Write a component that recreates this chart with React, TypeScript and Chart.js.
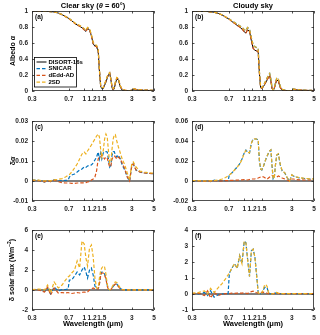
import React, { useEffect, useRef } from 'react';
import { Chart, registerables } from 'chart.js';
Chart.register(...registerables);

// ---------- data ----------
const wavelength = [
  0.3, 0.35, 0.4, 0.43, 0.46,
  0.5, 0.55, 0.6, 0.65, 0.69,
  0.71, 0.75, 0.8, 0.85, 0.9,
  0.95, 1.0, 1.04, 1.08, 1.13,
  1.18, 1.23, 1.28, 1.33, 1.38,
  1.42, 1.46, 1.5, 1.55, 1.6,
  1.65, 1.7, 1.75, 1.8, 1.85,
  1.9, 1.95, 2.0, 2.05, 2.12,
  2.2, 2.3, 2.4, 2.55, 2.7,
  2.85, 3.0, 3.1, 3.3, 3.6,
  4.0, 4.5, 5.0,
];

const albedoClearDisort = [
  0.998, 0.997, 0.996, 0.995, 0.993,
  0.988, 0.975, 0.955, 0.93, 0.912,
  0.902, 0.878, 0.848, 0.825, 0.81,
  0.79, 0.765, 0.745, 0.78, 0.765,
  0.69, 0.59, 0.56, 0.55, 0.5,
  0.25, 0.06, 0.03, 0.03, 0.07,
  0.11, 0.16, 0.2, 0.22, 0.14,
  0.04, 0.01, 0.03, 0.09, 0.15,
  0.14, 0.05, 0.01, 0.004, 0.002,
  0.001, 0.003, 0.02, 0.015, 0.01,
  0.008, 0.006, 0.005,
];

const albedoCloudyDisort = [
  0.998, 0.997, 0.995, 0.993, 0.99,
  0.985, 0.97, 0.95, 0.925, 0.905,
  0.895, 0.87, 0.845, 0.82, 0.8,
  0.775, 0.74, 0.725, 0.765, 0.745,
  0.63, 0.53, 0.51, 0.5, 0.49,
  0.22, 0.04, 0.03, 0.05, 0.08,
  0.11, 0.14, 0.17, 0.19, 0.12,
  0.03, 0.01, 0.03, 0.08, 0.14,
  0.12, 0.04, 0.01, 0.004, 0.002,
  0.001, 0.003, 0.02, 0.015, 0.01,
  0.008, 0.006, 0.005,
];

// albedo differences (model - DISORT), clear sky
const dAlbClearSnicar = [
  0.0005, 0.0003, -0.0005, 0.0002, -0.0003,
  0.0006, 0.0, 0.0002, 0.0003, 0.0004,
  0.002, 0.003, 0.0035, 0.0045, 0.0055,
  0.006, 0.007, 0.0068, 0.0075, 0.0078,
  0.008, 0.009, 0.0105, 0.012, 0.0145,
  0.011, 0.014, 0.011, 0.014, 0.0147,
  0.0147, 0.0145, 0.011, 0.007, 0.008,
  0.013, 0.0147, 0.0147, 0.013, 0.012,
  0.013, 0.011, 0.008, 0.0055, 0.002,
  0.0, 0.008, 0.0085, 0.0055, 0.0045,
  0.004, 0.0038, 0.0036,
];
const dAlbClearDedd = [
  0.0003, 0.0002, -0.0004, 0.0002, -0.0003,
  0.0004, -0.0003, -0.0008, -0.001, -0.001,
  -0.001, -0.0012, -0.0012, -0.001, -0.001,
  -0.0009, -0.001, -0.0008, -0.0005, -0.0003,
  0.0005, 0.001, 0.002, 0.005, 0.011,
  0.012, 0.012, 0.013, 0.012, 0.011,
  0.012, 0.0115, 0.009, 0.007, 0.0075,
  0.011, 0.012, 0.0125, 0.012, 0.011,
  0.012, 0.011, 0.009, 0.006, 0.002,
  0.0, 0.008, 0.0085, 0.0055, 0.0045,
  0.004, 0.0038, 0.0036,
];
const dAlbClear2sd = [
  0.0005, 0.0004, 0.0, 0.0003, 0.0001,
  0.0006, 0.0008, 0.0012, 0.002, 0.0028,
  0.0032, 0.0045, 0.0065, 0.0085, 0.011,
  0.0135, 0.0145, 0.0135, 0.015, 0.0165,
  0.018, 0.0195, 0.021, 0.0225, 0.0235,
  0.022, 0.016, 0.012, 0.015, 0.021,
  0.0235, 0.022, 0.015, 0.009, 0.01,
  0.016, 0.021, 0.023, 0.0232, 0.02,
  0.017, 0.014, 0.011, 0.008, 0.004,
  0.0005, 0.009, 0.0095, 0.007, 0.005,
  0.0045, 0.004, 0.004,
];

// albedo differences, cloudy sky
const dAlbCloudySnicar = [
  0.0005, 0.0003, -0.0005, 0.0005, -0.0005,
  0.0008, 0.0, 0.0003, 0.0004, 0.0005,
  0.006, 0.008, 0.011, 0.014, 0.017,
  0.022, 0.028, 0.031, 0.029, 0.028,
  0.038, 0.042, 0.042, 0.042, 0.041,
  0.02, 0.012, 0.011, 0.014, 0.018,
  0.022, 0.025, 0.028, 0.03, 0.031,
  0.015, 0.002, 0.003, 0.015, 0.026,
  0.027, 0.016, 0.01, 0.008, 0.003,
  0.0, 0.006, 0.005, 0.004, 0.003,
  0.0025, 0.002, 0.002,
];
const dAlbCloudyDedd = [
  0.0003, 0.0002, -0.0004, 0.0003, -0.0004,
  0.0005, -0.0002, 0.0001, 0.0003, 0.0004,
  0.0005, 0.0006, 0.0008, 0.0009, 0.001,
  0.0012, 0.0015, 0.0012, 0.001, 0.0015,
  0.002, 0.002, 0.0022, 0.0025, 0.003,
  0.0035, 0.004, 0.0045, 0.0042, 0.0035,
  0.0025, 0.002, 0.003, 0.004, 0.005,
  0.0055, 0.005, 0.005, 0.0045, 0.004,
  0.005, 0.004, 0.003, 0.002, 0.001,
  0.0, 0.002, 0.002, 0.0015, 0.0012,
  0.001, 0.001, 0.001,
];
const dAlbCloudy2sd = [
  0.0005, 0.0004, 0.0, 0.0003, 0.0002,
  0.0005, 0.001, 0.002, 0.0035, 0.005,
  0.006, 0.008, 0.011, 0.0138, 0.0168,
  0.0215, 0.0278, 0.0305, 0.0288, 0.0282,
  0.0378, 0.0418, 0.0422, 0.042, 0.041,
  0.0205, 0.0122, 0.0112, 0.0142, 0.0182,
  0.0222, 0.0252, 0.0282, 0.0302, 0.0312,
  0.0155, 0.0022, 0.0032, 0.0152, 0.0262,
  0.0272, 0.0162, 0.0102, 0.0082, 0.0032,
  0.0, 0.0062, 0.0052, 0.0042, 0.0032,
  0.0027, 0.0022, 0.0022,
];

// solar flux differences (W m-2), clear sky
const dFluxClearSnicar = [
  0.05, 0.05, -0.15, 0.2, -0.4,
  0.3, -0.1, 0.05, 0.05, 0.1,
  1.0, 1.0, 1.4, 1.8, 1.5,
  2.0, 2.3, 1.8, 1.2, 2.0,
  2.2, 1.5, 0.4, 0.1, 0.1,
  0.6, 1.5, 1.8, 1.8, 1.6,
  1.2, 0.5, 0.05, 0.0, 0.05,
  0.2, 0.35, 0.5, 0.6, 0.6,
  0.4, 0.15, 0.05, 0.02, 0.02,
  0.02, 0.02, 0.02, 0.02, 0.02,
  0.02, 0.02, 0.02,
];
const dFluxClearDedd = [
  0.05, 0.0, -0.2, 0.3, -0.5,
  0.2, -0.3, -0.25, -0.3, -0.25,
  -0.3, -0.35, -0.3, -0.25, -0.3,
  -0.25, -0.2, -0.25, -0.2, 0.0,
  0.1, 0.2, 0.1, 0.05, 0.1,
  0.6, 1.4, 1.7, 1.7, 1.5,
  1.1, 0.4, 0.05, 0.0, 0.05,
  0.2, 0.35, 0.5, 0.6, 0.55,
  0.35, 0.1, 0.03, 0.02, 0.02,
  0.02, 0.02, 0.02, 0.02, 0.02,
  0.02, 0.02, 0.02,
];
const dFluxClear2sd = [
  0.05, 0.1, 0.0, 0.5, -0.3,
  0.8, 0.2, 0.5, 1.0, 1.3,
  1.4, 1.7, 2.0, 2.9, 2.2,
  4.9, 4.6, 3.2, 2.4, 4.2,
  4.5, 3.3, 1.2, 0.2, 0.2,
  1.2, 1.9, 2.2, 2.4, 2.3,
  1.6, 0.6, 0.1, 0.0, 0.1,
  0.3, 0.5, 0.7, 0.8, 0.75,
  0.5, 0.2, 0.05, 0.02, 0.02,
  0.02, 0.02, 0.02, 0.02, 0.02,
  0.02, 0.02, 0.02,
];

// solar flux differences, cloudy sky
const dFluxCloudySnicar = [
  0.02, 0.0, 0.1, -0.1, 0.2,
  -0.2, -0.05, 0.0, 0.02, 0.02,
  1.3, 1.6, 1.9, 1.6, 2.4,
  1.9, 3.3, 3.2, 2.2, 1.1,
  2.7, 2.8, 2.3, 1.2, 0.1,
  0.0, 0.0, 0.05, 0.25, 0.4,
  0.45, 0.35, 0.08, 0.02, 0.0,
  0.0, 0.02, 0.04, 0.06, 0.08,
  0.04, 0.02, 0.02, 0.02, 0.02,
  0.02, 0.02, 0.02, 0.02, 0.02,
  0.02, 0.02, 0.02,
];
const dFluxCloudyDedd = [
  0.0, 0.05, -0.1, 0.2, -0.25,
  0.1, -0.1, 0.0, 0.02, 0.03,
  0.03, 0.05, 0.04, 0.05, 0.06,
  0.05, 0.08, 0.05, 0.03, 0.1,
  0.15, 0.18, 0.12, 0.08, 0.05,
  0.05, 0.08, 0.1, 0.12, 0.1,
  0.08, 0.05, 0.02, 0.02, 0.02,
  0.02, 0.02, 0.03, 0.04, 0.05,
  0.03, 0.02, 0.02, 0.02, 0.02,
  0.02, 0.02, 0.02, 0.02, 0.02,
  0.02, 0.02, 0.02,
];
const dFluxCloudy2sd = [
  0.05, 0.1, 0.2, 0.0, 0.35,
  0.1, 0.4, 0.65, 0.95, 1.2,
  1.3, 1.6, 1.9, 1.6, 2.4,
  1.9, 3.3, 3.2, 2.2, 1.1,
  2.7, 2.8, 2.3, 1.2, 0.1,
  0.0, 0.0, 0.05, 0.3, 0.55,
  0.6, 0.45, 0.1, 0.02, 0.0,
  0.0, 0.02, 0.05, 0.08, 0.1,
  0.05, 0.02, 0.02, 0.02, 0.02,
  0.02, 0.02, 0.02, 0.02, 0.02,
  0.02, 0.02, 0.02,
];

// DISORT reference difference (zero line)
const referenceWl = [0.3, 5];
const referenceDiff = [0, 0];

const xTickValues = [0.3, 0.7, 1, 1.2, 1.5, 3, 5];
const xTickLabels = ['0.3', '0.7', '1', '1.2', '1.5', '3', '5'];
const yTicksAlbedo = [0, 0.2, 0.4, 0.6, 0.8, 1];
const yTicksClearDiff = [-0.01, 0, 0.01, 0.02, 0.03];
const yTicksCloudyDiff = [-0.02, 0, 0.02, 0.04, 0.06];
const yTicksClearFlux = [-2, 0, 2, 4, 6];
const yTicksCloudyFlux = [-1, 0, 1, 2, 3, 4];

const seriesNames = ['DISORT-16s', 'SNICAR', 'dEdd-AD', '2SD'];

// ---------- styling ----------
const FONT = '"Liberation Sans", Arial, Helvetica, sans-serif';
const AXIS = '#262626';
const COLORS = ['#000000', '#0072BD', '#D95319', '#EDB120'];
const DASH = [3.5, 2];

type Seg = { t: string; i?: boolean; sup?: boolean };
type Series = { wl: number[]; vals: number[] };
type PanelSpec = {
  canvas: { x: number; y: number; w: number; h: number };
  plot: { l: number; t: number; r: number; b: number };
  yMin: number; yMax: number; yTicks: number[];
  series: Series[];
  letter: string;
  title?: Seg[];
  titleY?: number;
  yTitle?: Seg[];
  yTitleX?: number;
  xTitle?: Seg[];
  xTitleY?: number;
  legend?: boolean;
};

function fontFor(s: Seg, size: number) {
  return `${s.i ? 'italic ' : ''}bold ${s.sup ? size * 0.7 : size}px ${FONT}`;
}
function drawRich(ctx: CanvasRenderingContext2D, segs: Seg[], x: number, y: number, size: number, align: 'center' | 'left') {
  const widths = segs.map((s) => { ctx.font = fontFor(s, size); return ctx.measureText(s.t).width; });
  const total = widths.reduce((a, b) => a + b, 0);
  let cx = align === 'center' ? x - total / 2 : x;
  ctx.textAlign = 'left';
  ctx.textBaseline = 'middle';
  segs.forEach((s, k) => {
    ctx.font = fontFor(s, size);
    ctx.fillText(s.t, cx, s.sup ? y - size * 0.35 : y);
    cx += widths[k];
  });
}

const decoPlugin = {
  id: 'deco',
  afterDatasetsDraw(chart: any, _args: any, opts: any) {
    const { ctx, chartArea: ca, scales } = chart;
    const spec: PanelSpec = opts.spec;
    const cx0 = spec.canvas.x, cy0 = spec.canvas.y;
    ctx.save();
    ctx.strokeStyle = AXIS;
    ctx.lineWidth = 0.8;
    const tl = 2.5;
    const xs = scales.x, ys = scales.y;
    ctx.beginPath();
    xs.ticks.forEach((t: any) => {
      const px = Math.round(xs.getPixelForValue(t.value)) + 0.5;
      ctx.moveTo(px, ca.bottom); ctx.lineTo(px, ca.bottom - tl);
      ctx.moveTo(px, ca.top); ctx.lineTo(px, ca.top + tl);
    });
    ys.ticks.forEach((t: any) => {
      const py = Math.round(ys.getPixelForValue(t.value)) + 0.5;
      ctx.moveTo(ca.left, py); ctx.lineTo(ca.left + tl, py);
      ctx.moveTo(ca.right, py); ctx.lineTo(ca.right - tl, py);
    });
    ctx.stroke();
    ctx.strokeRect(ca.left + 0.5, ca.top + 0.5, ca.right - ca.left - 1, ca.bottom - ca.top - 1);

    ctx.fillStyle = '#000';
    drawRich(ctx, [{ t: spec.letter }], ca.left + 3, ca.top + 6.5, 6.5, 'left');
    const midX = (ca.left + ca.right) / 2;
    if (spec.title) drawRich(ctx, spec.title, midX, (spec.titleY ?? 6) - cy0, 7.5, 'center');
    if (spec.xTitle) drawRich(ctx, spec.xTitle, midX, (spec.xTitleY ?? 324) - cy0, 7.5, 'center');
    if (spec.yTitle) {
      ctx.save();
      ctx.translate((spec.yTitleX ?? 13) - cx0, (ca.top + ca.bottom) / 2);
      ctx.rotate(-Math.PI / 2);
      drawRich(ctx, spec.yTitle, 0, 0, 7, 'center');
      ctx.restore();
    }
    if (spec.legend) {
      const bx = ca.left + 2.5, by = ca.top + 46.5, bw = 42, bh = 29.5;
      ctx.fillStyle = '#fff';
      ctx.fillRect(bx, by, bw, bh);
      ctx.strokeStyle = '#000';
      ctx.lineWidth = 0.8;
      ctx.strokeRect(bx, by, bw, bh);
      chart.data.datasets.forEach((d: any, k: number) => {
        const ly = by + 4.5 + k * 6.7;
        ctx.save();
        ctx.strokeStyle = d.borderColor;
        ctx.lineWidth = d.borderWidth;
        ctx.setLineDash(d.borderDash || []);
        ctx.beginPath();
        ctx.moveTo(bx + 2, ly); ctx.lineTo(bx + 12, ly);
        ctx.stroke();
        ctx.restore();
        ctx.fillStyle = '#000';
        drawRich(ctx, [{ t: d.label }], bx + 14, ly, 6, 'left');
      });
    }
    ctx.restore();
  },
};

function Panel({ spec }: { spec: PanelSpec }) {
  const ref = useRef<HTMLCanvasElement>(null);
  useEffect(() => {
    const c = ref.current!;
    const { canvas, plot } = spec;
    const tickFont = { family: FONT, size: 6.5, weight: 'bold' as const };
    const chart = new Chart(c, {
      type: 'line',
      data: {
        datasets: spec.series.map((s, k) => ({
          label: seriesNames[k],
          data: s.wl.map((w, i) => ({ x: w, y: s.vals[i] })),
          borderColor: COLORS[k],
          borderWidth: k === 0 ? 1 : 1.2,
          borderDash: k === 0 ? [] : DASH,
          pointRadius: 0,
          fill: false,
          tension: 0,
          order: 10 - k,
        })),
      },
      options: {
        responsive: false,
        animation: false,
        devicePixelRatio: 1,
        layout: { padding: { left: 0, top: plot.t - canvas.y, right: canvas.x + canvas.w - plot.r, bottom: 0 } },
        plugins: { legend: { display: false }, tooltip: { enabled: false }, deco: { spec } } as any,
        scales: {
          x: {
            type: 'logarithmic', min: 0.3, max: 5,
            grid: { display: false, drawTicks: false }, border: { display: false },
            afterBuildTicks: (s: any) => { s.ticks = xTickValues.map((v) => ({ value: v })); },
            afterFit: (s: any) => { s.height = canvas.y + canvas.h - plot.b; },
            ticks: { autoSkip: false, maxRotation: 0, minRotation: 0, padding: 4, font: tickFont, color: AXIS,
              callback: (_v: any, i: number) => xTickLabels[i] },
          },
          y: {
            type: 'linear', min: spec.yMin, max: spec.yMax,
            grid: { display: false, drawTicks: false }, border: { display: false },
            afterBuildTicks: (s: any) => { s.ticks = spec.yTicks.map((v) => ({ value: v })); },
            afterFit: (s: any) => { s.width = plot.l - canvas.x; },
            ticks: { autoSkip: false, padding: 4, font: tickFont, color: AXIS,
              callback: (v: any) => String(v) },
          },
        } as any,
      },
      plugins: [decoPlugin],
    });
    return () => chart.destroy();
  }, []);
  return (
    <canvas ref={ref} width={spec.canvas.w} height={spec.canvas.h}
      style={{ position: 'absolute', left: spec.canvas.x, top: spec.canvas.y, width: spec.canvas.w, height: spec.canvas.h }} />
  );
}

const withDelta = (base: number[], d: number[]) => base.map((v, i) => v + d[i]);

const col1 = { x: 0, l: 32, r: 154 };
const col2 = { x: 160, l: 192, r: 314 };
const row1 = { y: 0, h: 105, t: 11, b: 91 };
const row2 = { y: 105, h: 110, t: 121, b: 201 };
const row3 = { y: 215, h: 120, t: 230, b: 310 };

function mk(col: any, row: any) {
  return {
    canvas: { x: col.x, y: row.y, w: 160, h: row.h },
    plot: { l: col.l, t: row.t, r: col.r, b: row.b },
  };
}

const panels: PanelSpec[] = [
  {
    ...mk(col1, row1), yMin: 0, yMax: 1, yTicks: yTicksAlbedo, letter: '(a)', legend: true,
    title: [{ t: 'Clear sky (' }, { t: 'θ', i: true }, { t: ' = 60°)' }],
    yTitle: [{ t: 'Albedo ' }, { t: 'α', i: true }], yTitleX: 13,
    series: [
      { wl: wavelength, vals: albedoClearDisort },
      { wl: wavelength, vals: withDelta(albedoClearDisort, dAlbClearSnicar) },
      { wl: wavelength, vals: withDelta(albedoClearDisort, dAlbClearDedd) },
      { wl: wavelength, vals: withDelta(albedoClearDisort, dAlbClear2sd) },
    ],
  },
  {
    ...mk(col2, row1), yMin: 0, yMax: 1, yTicks: yTicksAlbedo, letter: '(b)',
    title: [{ t: 'Cloudy sky' }],
    series: [
      { wl: wavelength, vals: albedoCloudyDisort },
      { wl: wavelength, vals: withDelta(albedoCloudyDisort, dAlbCloudySnicar) },
      { wl: wavelength, vals: withDelta(albedoCloudyDisort, dAlbCloudyDedd) },
      { wl: wavelength, vals: withDelta(albedoCloudyDisort, dAlbCloudy2sd) },
    ],
  },
  {
    ...mk(col1, row2), yMin: -0.01, yMax: 0.03, yTicks: yTicksClearDiff, letter: '(c)',
    yTitle: [{ t: 'δ' }, { t: 'α', i: true }], yTitleX: 13,
    series: [
      { wl: referenceWl, vals: referenceDiff },
      { wl: wavelength, vals: dAlbClearSnicar },
      { wl: wavelength, vals: dAlbClearDedd },
      { wl: wavelength, vals: dAlbClear2sd },
    ],
  },
  {
    ...mk(col2, row2), yMin: -0.02, yMax: 0.06, yTicks: yTicksCloudyDiff, letter: '(d)',
    series: [
      { wl: referenceWl, vals: referenceDiff },
      { wl: wavelength, vals: dAlbCloudySnicar },
      { wl: wavelength, vals: dAlbCloudyDedd },
      { wl: wavelength, vals: dAlbCloudy2sd },
    ],
  },
  {
    ...mk(col1, row3), yMin: -2, yMax: 6, yTicks: yTicksClearFlux, letter: '(e)',
    yTitle: [{ t: 'δ solar flux (Wm' }, { t: '−2', sup: true }, { t: ')' }], yTitleX: 12,
    xTitle: [{ t: 'Wavelength (μm)' }], xTitleY: 324,
    series: [
      { wl: referenceWl, vals: referenceDiff },
      { wl: wavelength, vals: dFluxClearSnicar },
      { wl: wavelength, vals: dFluxClearDedd },
      { wl: wavelength, vals: dFluxClear2sd },
    ],
  },
  {
    ...mk(col2, row3), yMin: -1, yMax: 4, yTicks: yTicksCloudyFlux, letter: '(f)',
    xTitle: [{ t: 'Wavelength (μm)' }], xTitleY: 324,
    series: [
      { wl: referenceWl, vals: referenceDiff },
      { wl: wavelength, vals: dFluxCloudySnicar },
      { wl: wavelength, vals: dFluxCloudyDedd },
      { wl: wavelength, vals: dFluxCloudy2sd },
    ],
  },
];

export default function App() {
  return (
    <div style={{ position: 'absolute', left: 0, top: 0, width: 320, height: 335, background: '#fff' }}>
      {panels.map((p, i) => <Panel key={i} spec={p} />)}
    </div>
  );
}
